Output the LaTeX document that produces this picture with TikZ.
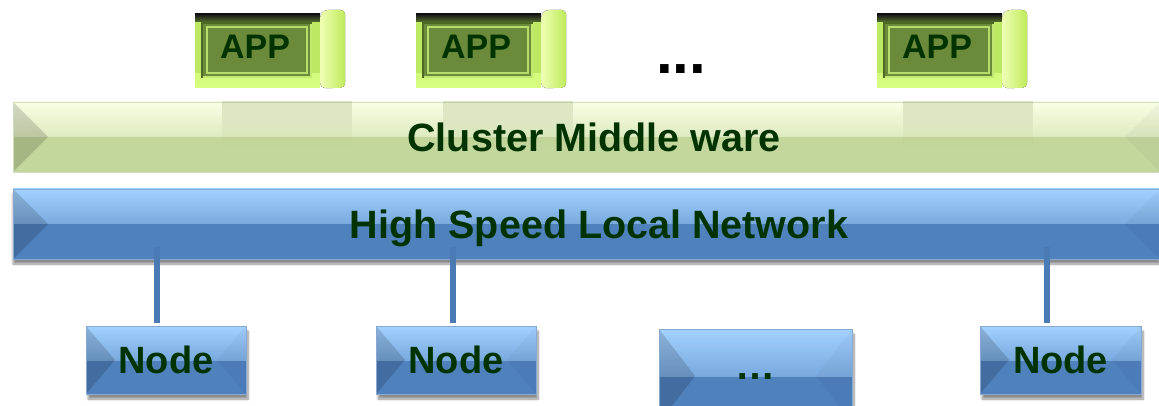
\documentclass[tikz,border=0pt]{standalone}
\usepackage{fontspec}
\setmainfont{Liberation Sans}
\usetikzlibrary{shadows.blur,fadings}

\definecolor{txtgreen}{HTML}{003300}
\definecolor{netbase}{HTML}{4F81BD}
\definecolor{netlight}{HTML}{A3D2FF}
\definecolor{netedge}{HTML}{86A8D2}
\definecolor{mwbase}{HTML}{C3D69B}
\definecolor{mwlight}{HTML}{F8FFE4}
\definecolor{mwedge}{HTML}{D2DCBE}
\definecolor{appface}{HTML}{6B8B3A}
\definecolor{appframe}{HTML}{BDE863}
\definecolor{appbright}{HTML}{D8FF80}
\definecolor{appdark}{HTML}{4C6822}
\definecolor{sidelight}{HTML}{EEFFB4}
\definecolor{sidemid}{HTML}{D4FF76}
\definecolor{sidedark}{HTML}{C0EA5A}
\definecolor{reflgreen}{HTML}{98A672}

\tikzset{
  % bevelled slab: #1 highlight, #2 base colour, #3 side inset, #4 outline
  bevel/.style n args={4}{
    rectangle, inner sep=0pt, fill=#2, draw=#4, line width=0.8pt,
    path picture={
      \shade[top color=#1, bottom color=#2]
        (path picture bounding box.north west) rectangle (path picture bounding box.east);
      \fill[black, opacity=0.15]
        (path picture bounding box.north west) -- ([xshift=#3]path picture bounding box.west)
        -- (path picture bounding box.south west) -- cycle;
      \fill[black, opacity=0.03]
        (path picture bounding box.north east) -- ([xshift=-#3]path picture bounding box.east)
        -- (path picture bounding box.south east) -- cycle;
    }},
  lbl/.style={font=\fontsize{39.5}{40}\selectfont\bfseries, text=txtgreen, text depth=0pt},
  mwbar/.style={bevel={mwlight}{mwbase}{35pt}{mwedge}, minimum width=1147pt, minimum height=70pt},
  netbar/.style={bevel={netlight}{netbase}{35pt}{netedge}, minimum width=1147pt, minimum height=70pt,
    blur shadow={shadow xshift=0pt, shadow yshift=-5pt, shadow blur steps=8, shadow opacity=45}},
  hostbox/.style={bevel={netlight}{netbase}{29pt}{netedge}, minimum width=160pt, minimum height=68pt,
    font=\fontsize{38}{40}\selectfont\bfseries, text=txtgreen, text depth=0pt,
    blur shadow={shadow xshift=2pt, shadow yshift=-5pt, shadow blur steps=8, shadow opacity=45}},
  link/.style={netbase!95!black, line width=6pt},
  appbox/.style={rectangle, inner sep=0pt, minimum width=125pt, minimum height=74pt, fill=appframe,
    path picture={
      % lower bevel, brighter
      \shade[top color=appframe, bottom color=appbright]
        ([yshift=14pt]path picture bounding box.south west) rectangle (path picture bounding box.south east);
      % dark upper rim
      \shade[top color=black!92, bottom color=appface!80!black]
        (path picture bounding box.north west) rectangle ([yshift=-8pt]path picture bounding box.north east);
      % recessed face
      \fill[appdark]
        ([xshift=6pt,yshift=-8pt]path picture bounding box.north west)
        rectangle ([xshift=-8pt,yshift=10pt]path picture bounding box.south east);
      \fill[appbright!80!appface]
        ([xshift=8pt,yshift=-10pt]path picture bounding box.north west)
        rectangle ([xshift=-8pt,yshift=10pt]path picture bounding box.south east);
      \fill[appface]
        ([xshift=8pt,yshift=-10pt]path picture bounding box.north west)
        rectangle ([xshift=-10pt,yshift=12pt]path picture bounding box.south east);
      \draw[appbright!70!appface, line width=1.3pt]
        ([xshift=12pt,yshift=-13pt]path picture bounding box.north west)
        rectangle ([xshift=-13pt,yshift=15pt]path picture bounding box.south east);
    }},
  apptext/.style={font=\fontsize{34}{34}\selectfont\bfseries, text=txtgreen, inner sep=0pt, anchor=base},
  appside/.style={left color=sidelight, middle color=sidemid, right color=sidedark, rounded corners=5pt},
  reflection/.style={fill=reflgreen, opacity=0.28, path fading=south},
}

\begin{document}
\begin{tikzpicture}[x=1pt, y=-1pt]
  \useasboundingbox (0,0) rectangle (1159,406);
  \clip (0,0) rectangle (1159,406);

  % applications on top
  \foreach \name/\cx in {app1/257.5, app2/478.5, app3/939.5} {
    \node[appbox] (\name) at (\cx,51) {};
    \fill[appside] (\name.north east) -- ++(5,-4) -- ++(20,0) -- ++(0,78) -- (\name.south east) -- cycle;
    \node[apptext] (\name-label) at ([xshift=-2.5pt,yshift=-8pt]\name.center) {APP};
  }
  \node[font=\fontsize{60}{60}\selectfont\bfseries] (appdots) at (681,69) {...};

  % middleware layer with faint reflections of the applications
  \node[mwbar] (mw) at (586.5,137) {};
  \fill[reflection] (222,101) rectangle (352,146);
  \fill[reflection] (443,101) rectangle (573,146);
  \fill[reflection] (903,101) rectangle (1033,146);
  \node[lbl] (mwtext) at (594,137) {Cluster Middle ware};

  % interconnect
  \node[netbar] (net) at (586.5,224) {};
  \node[lbl] (nettext) at (599,224) {High Speed Local Network};

  % cluster hosts
  \node[hostbox] (n1) at (166,360) {Node};
  \node[hostbox] (n2) at (456,360) {Node};
  \node[hostbox, minimum width=193pt, minimum height=94pt,
        bevel={netlight}{netbase}{36pt}{netedge}] (n3) at (755.5,376) {};
  \node[font=\fontsize{40}{40}\selectfont\bfseries, text=txtgreen, inner sep=0pt, anchor=base]
    (n3text) at (755,379) {…};
  \node[hostbox, minimum width=161pt] (n4) at (1060.5,360) {Node};

  % taps from the network to the hosts
  \coordinate (t1) at ([xshift=-9pt,yshift=3pt]n1.north);
  \coordinate (t2) at ([xshift=-3pt,yshift=3pt]n2.north);
  \coordinate (t4) at ([xshift=-13.5pt,yshift=3pt]n4.north);
  \foreach \t in {t1,t2,t4}
    \draw[link] (\t) -- ([yshift=12pt]\t |- net.south);
\end{tikzpicture}
\end{document}
